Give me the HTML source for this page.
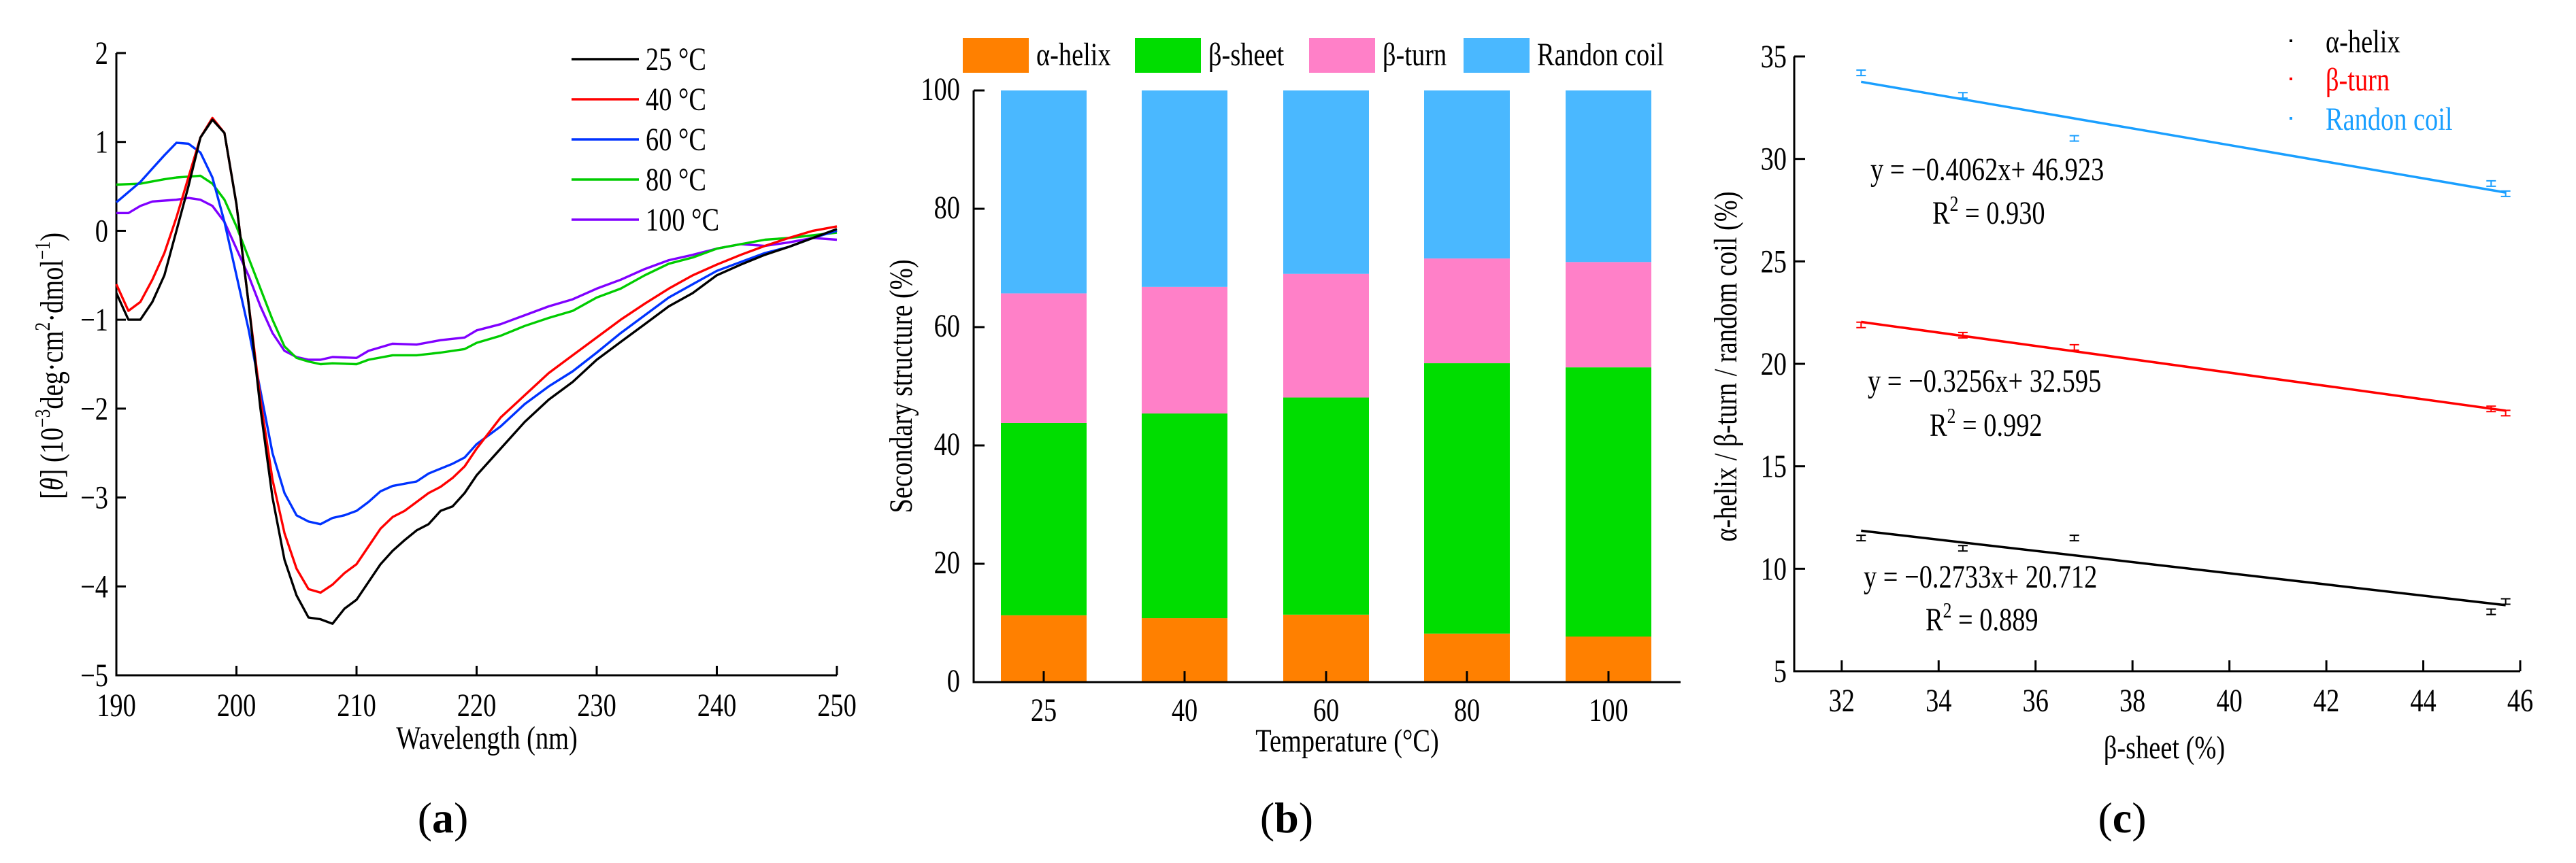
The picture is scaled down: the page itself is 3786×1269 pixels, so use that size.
<!DOCTYPE html>
<html><head><meta charset="utf-8"><style>
html,body{margin:0;padding:0;background:#fff;}
svg{display:block;font-family:"Liberation Serif",serif;}
</style></head><body>
<svg id="fig" width="3786" height="1269" viewBox="0 0 3786 1269" xmlns="http://www.w3.org/2000/svg" font-family="Liberation Serif, serif">
<g id="pa"></g>
<g id="pb"></g>
<g id="pc"></g>
</svg>
<script>
// ---------- Panel A data ----------
const cdSeriesNames = ["25 °C","40 °C","60 °C","80 °C","100 °C"];
const cdColors = ["#000000","#ff0000","#0033ff","#00cc00","#8000ff"];
const cd25x = [190,191,192,193,194,195,196,197,198,199,200,201,202,203,204,205,206,207,208,209,210,211,212,213,214,215,216,217,218,219,220,222,224,226,228,230,232,234,236,238,240,242,244,246,248,250];
const cd25y = [-0.7,-1.0,-1.0,-0.8,-0.5,0,0.5,1.05,1.25,1.1,0.3,-0.8,-2.0,-3.0,-3.7,-4.1,-4.35,-4.37,-4.42,-4.25,-4.15,-3.95,-3.75,-3.6,-3.48,-3.37,-3.3,-3.15,-3.1,-2.95,-2.75,-2.45,-2.15,-1.9,-1.7,-1.45,-1.25,-1.05,-0.85,-0.7,-0.5,-0.38,-0.27,-0.18,-0.08,0.02];
const cd40x = [190,191,192,193,194,195,196,197,198,199,200,201,202,203,204,205,206,207,208,209,210,211,212,213,214,215,216,217,218,219,220,222,224,226,228,230,232,234,236,238,240,242,244,246,248,250];
const cd40y = [-0.6,-0.9,-0.8,-0.55,-0.25,0.15,0.6,1.05,1.27,1.1,0.3,-0.8,-1.9,-2.8,-3.4,-3.8,-4.03,-4.07,-3.98,-3.85,-3.75,-3.55,-3.35,-3.22,-3.15,-3.05,-2.95,-2.88,-2.78,-2.65,-2.45,-2.1,-1.85,-1.6,-1.4,-1.2,-1.0,-0.82,-0.65,-0.5,-0.38,-0.27,-0.17,-0.08,0.0,0.05];
const cd60x = [190,192,193,194,195,196,197,198,199,200,201,202,203,204,205,206,207,208,209,210,211,212,213,215,216,218,219,220,222,224,226,228,230,232,234,236,238,240,242,244,246,248,250];
const cd60y = [0.32,0.55,0.7,0.85,0.99,0.98,0.88,0.6,0.1,-0.5,-1.1,-1.8,-2.5,-2.95,-3.2,-3.27,-3.3,-3.23,-3.2,-3.15,-3.05,-2.93,-2.87,-2.82,-2.73,-2.62,-2.55,-2.4,-2.2,-1.95,-1.75,-1.58,-1.37,-1.15,-0.95,-0.75,-0.6,-0.45,-0.35,-0.25,-0.18,-0.08,0.0];
const cd80x = [190,192,194,195,197,198,199,200,201,202,203,204,205,206,207,208,210,211,213,215,217,219,220,222,224,226,228,230,232,234,236,238,240,242,244,246,248,250];
const cd80y = [0.52,0.53,0.58,0.6,0.62,0.53,0.35,0.05,-0.3,-0.65,-1.0,-1.3,-1.43,-1.47,-1.5,-1.49,-1.5,-1.45,-1.4,-1.4,-1.37,-1.33,-1.26,-1.18,-1.07,-0.98,-0.9,-0.75,-0.65,-0.5,-0.37,-0.3,-0.2,-0.15,-0.1,-0.08,-0.05,-0.02];
const cd100x = [190,191,192,193,195,196,197,198,199,200,201,202,203,204,205,206,207,208,210,211,213,215,217,219,220,222,224,226,228,230,232,234,236,238,240,242,244,246,248,250];
const cd100y = [0.2,0.2,0.28,0.33,0.35,0.37,0.35,0.28,0.1,-0.2,-0.5,-0.85,-1.15,-1.35,-1.42,-1.45,-1.45,-1.42,-1.43,-1.35,-1.27,-1.28,-1.23,-1.2,-1.12,-1.05,-0.95,-0.85,-0.77,-0.65,-0.55,-0.43,-0.33,-0.27,-0.2,-0.15,-0.17,-0.13,-0.08,-0.1];
const cdXTicks = [190,200,210,220,230,240,250];
const cdYTicks = [-5,-4,-3,-2,-1,0,1,2];
const cdYTickLabels = ["−5","−4","−3","−2","−1","0","1","2"];

// ---------- Panel B data ----------
const tempCategories = ["25","40","60","80","100"];
const structNames = ["α-helix","β-sheet","β-turn","Randon coil"];
const structColors = ["#ff8000","#00dd00","#ff80c8","#4ab8ff"];
const helixVals = [11.3,10.8,11.4,8.2,7.7];
const sheetVals = [32.5,34.6,36.7,45.7,45.5];
const turnVals = [21.9,21.4,20.9,17.7,17.8];
const coilVals = [34.3,33.2,31.0,28.4,29.0];
const barYTicks = [0,20,40,60,80,100];

// ---------- Panel C data ----------
const sheetX = [32.4,34.5,36.8,45.4,45.7];
const helixY = [11.5,11.0,11.5,7.9,8.4];
const turnY = [21.9,21.4,20.8,17.8,17.6];
const coilY = [34.2,33.1,31.0,28.8,28.3];
const slopes = [-0.2733,-0.3256,-0.4062];
const intercepts = [20.712,32.595,46.923];
const eqLabels = ["y = −0.2733x+ 20.712","y = −0.3256x+ 32.595","y = −0.4062x+ 46.923"];
const r2Labels = ["0.889","0.992","0.930"];
const regNames = ["α-helix","β-turn","Randon coil"];
const regColors = ["#000000","#ff0000","#1a9fff"];
const regXTicks = [32,34,36,38,40,42,44,46];
const regYTicks = [5,10,15,20,25,30,35];

const NS="http://www.w3.org/2000/svg";
const FS=48, SXF=0.8;
function mk(parent,tag,attrs,text){const e=document.createElementNS(NS,tag);for(const k in attrs)e.setAttribute(k,attrs[k]);if(text!==undefined)e.textContent=text;parent.appendChild(e);return e;}
function T(parent,x,y,anchor,html,rot,fill){
 const tr=`translate(${x},${y})`+(rot?` rotate(${rot})`:'')+` scale(${SXF},1)`;
 const e=mk(parent,'text',{x:0,y:0,'font-size':FS,'text-anchor':anchor,transform:tr,fill:fill||'#000'});
 e.innerHTML=html;
 return e;
}
const SUP=(s)=>`<tspan font-size="32" dy="-19">${s}</tspan><tspan dy="19">`;

// ===== Panel A =====
(function(){
const g=document.getElementById('pa');
const X0=171,X1=1230,Y0=993,Y1=78;
const sx=v=>X0+(v-190)/(60)*(X1-X0);
const sy=v=>Y0-(v+5)/7*(Y0-Y1);
let e;
e=mk(g,'path',{d:`M${X0},${Y1}V${Y0}H${X1}`,stroke:'#000','stroke-width':3,fill:'none'});


cdXTicks.forEach(t=>{
 e=mk(g,'line',{x1:sx(t),x2:sx(t),y1:Y0,y2:Y0-14,stroke:'#000','stroke-width':3});
 
 
 e=T(g,sx(t),Y0+60,'middle',String(t));
 
 
});
cdYTicks.forEach((t,i)=>{
 e=mk(g,'line',{x1:X0,x2:X0+14,y1:sy(t),y2:sy(t),stroke:'#000','stroke-width':3});
 
 
 e=T(g,X0-12,sy(t)+16,'end',cdYTickLabels[i]);
 
 
});
e=T(g,(X0+X1)/2+15,1101,'middle','Wavelength (nm)');


e=T(g,92,538,'middle','[<tspan font-style="italic">θ</tspan>]  (10'+SUP('−3')+'deg·cm</tspan>'+SUP('2')+'·dmol</tspan>'+SUP('−1')+')</tspan>',-90);


const xs=[cd25x,cd40x,cd60x,cd80x,cd100x], ys=[cd25y,cd40y,cd60y,cd80y,cd100y];
for(let s=4;s>=0;s--){
 const d=xs[s].map((x,i)=>(i?'L':'M')+sx(x).toFixed(1)+','+sy(ys[s][i]).toFixed(1)).join('');
 e=mk(g,'path',{d,stroke:cdColors[s],'stroke-width':3.4,fill:'none','stroke-linejoin':'round'});
 
 
}
cdSeriesNames.forEach((n,i)=>{
 const y=87+i*59;
 e=mk(g,'line',{x1:840,x2:939,y1:y,y2:y,stroke:cdColors[i],'stroke-width':3.5});
 
 
 e=T(g,949,y+16,'start',n);
 
 
});
e=mk(g,'text',{x:651,y:1224,'font-size':64,'text-anchor':'middle'});
e.innerHTML='(<tspan font-weight="bold">a</tspan>)';


})();

// ===== Panel B =====
(function(){
const g=document.getElementById('pb');
const X0=1431,X1=2470,Y0=1003,Y1=133;
const cx=[1534,1741,1949,2156,2364];
const bw=126;
const sy=v=>Y0-v/100*(Y0-Y1);
let e;
const sets=[helixVals,sheetVals,turnVals,coilVals];
const keys=['helix','sheet','turn','coil'];
tempCategories.forEach((c,i)=>{
 let base=0;
 sets.forEach((arr,s)=>{
  const top=Math.min(base+arr[i],100);
  e=mk(g,'rect',{x:cx[i]-bw/2,y:sy(top),width:bw,height:sy(base)-sy(top),fill:structColors[s]});
  
  
  base=base+arr[i];
 });
});
e=mk(g,'path',{d:`M${X0},${Y1}V${Y0}H${X1}`,stroke:'#000','stroke-width':3,fill:'none'});


barYTicks.forEach(t=>{
 e=mk(g,'line',{x1:X0,x2:X0+16,y1:sy(t),y2:sy(t),stroke:'#000','stroke-width':3});
 
 
 e=T(g,X0-20,sy(t)+14,'end',String(t));
 
 
});
tempCategories.forEach((c,i)=>{
 e=mk(g,'line',{x1:cx[i],x2:cx[i],y1:Y0,y2:Y0-16,stroke:'#000','stroke-width':3});
 
 
 e=T(g,cx[i],1060,'middle',c);
 
 
});
e=T(g,1980,1105,'middle','Temperature (°C)');


e=T(g,1340,568,'middle','Secondary structure (%)',-90);


const lx=[1415,1668,1924,2151];
structNames.forEach((n,i)=>{
 e=mk(g,'rect',{x:lx[i],y:56,width:97,height:51,fill:structColors[i]});
 
 
 e=T(g,lx[i]+108,96,'start',n);
 
 
});
e=mk(g,'text',{x:1891,y:1224,'font-size':64,'text-anchor':'middle'});
e.innerHTML='(<tspan font-weight="bold">b</tspan>)';


})();

// ===== Panel C =====
(function(){
const g=document.getElementById('pc');
const X0=2637,X1=3704,Y0=987,Y1=83;
const xmin=31.02,xmax=46;
const sx=v=>X0+(v-xmin)/(xmax-xmin)*(X1-X0);
const sy=v=>Y0-(v-5)/30*(Y0-Y1);
let e;
e=mk(g,'path',{d:`M${X0},${Y1}V${Y0}H${X1}`,stroke:'#000','stroke-width':3,fill:'none'});


regYTicks.forEach(t=>{
 e=mk(g,'line',{x1:X0,x2:X0+16,y1:sy(t),y2:sy(t),stroke:'#000','stroke-width':3});
 
 
 e=T(g,X0-11,sy(t)+16,'end',String(t));
 
 
});
regXTicks.forEach(t=>{
 e=mk(g,'line',{x1:sx(t),x2:sx(t),y1:Y0,y2:Y0-16,stroke:'#000','stroke-width':3});
 
 
 e=T(g,sx(t),1046,'middle',String(t));
 
 
});
e=T(g,3181,1115,'middle','β-sheet (%)');


e=T(g,2552,539,'middle','α-helix / β-turn / random coil (%)',-90);


const ySets=[helixY,turnY,coilY];
const keys=['helix','turn','coil'];
const xa=sheetX[0], xb=sheetX[sheetX.length-1];
ySets.forEach((ys,s)=>{
 e=mk(g,'line',{x1:sx(xa),y1:sy(slopes[s]*xa+intercepts[s]),x2:sx(xb),y2:sy(slopes[s]*xb+intercepts[s]),stroke:regColors[s],'stroke-width':3.5});
 
 
 ys.forEach((y,i)=>{
  const px=sx(sheetX[i]),py=sy(y);
  e=mk(g,'path',{d:`M${px-7},${py-4}H${px+7}M${px-7},${py+4}H${px+7}M${px},${py-4}V${py+4}`,stroke:regColors[s],'stroke-width':2,fill:'none'});
  
  
 });
});
const eqPos=[[2739,848,2830,911],[2745,560,2836,625],[2749,249,2840,313]];
eqLabels.forEach((t,i)=>{
 const p=eqPos[i];
 e=T(g,p[0],p[1]+16,'start',t);
 
 
 e=T(g,p[2],p[3]+16,'start','R'+SUP('2')+' = '+r2Labels[i]+'</tspan>');
 
 
});
const legY=[77,133,191];
regNames.forEach((n,i)=>{
 const y=legY[i];
 e=mk(g,'rect',{x:3365,y:y-19,width:4,height:4,fill:regColors[i]});
 
 
 e=T(g,3418,y,'start',n,0,i===0?'#000':regColors[i]);
 
 
});
e=mk(g,'text',{x:3119,y:1224,'font-size':64,'text-anchor':'middle'});
e.innerHTML='(<tspan font-weight="bold">c</tspan>)';


})();
</script>
</body></html>
